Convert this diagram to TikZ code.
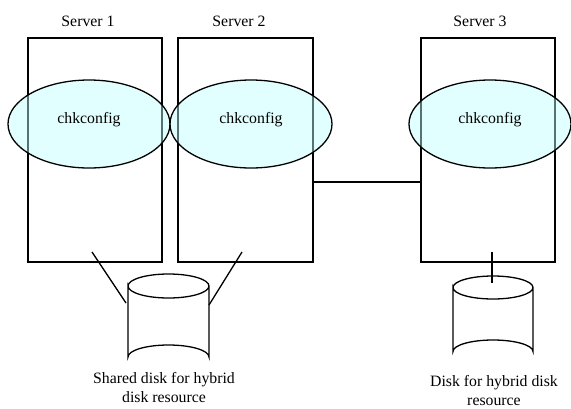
\documentclass[tikz,border=0pt]{standalone}
\usepackage{fontspec}
\setmainfont{Liberation Serif}
\usetikzlibrary{shapes.geometric}
\definecolor{procfill}{RGB}{190,255,255}
\begin{document}
\begin{tikzpicture}[x=1pt,y=-1pt,line width=1.3pt,
  server/.style={draw,minimum width=134pt,minimum height=224pt,inner sep=0pt},
  proc/.style={ellipse,draw,fill=procfill,fill opacity=0.45,minimum width=162pt,minimum height=88pt,inner sep=0pt},
  lbl/.style={font=\fontsize{15.8}{19}\selectfont,inner sep=0pt,align=center}]
\useasboundingbox (0,0) rectangle (571,408);
% servers
\node[server] (s1) at (95,150) {};
\node[server,minimum width=135pt] (s2) at (245.5,150) {};
\node[server] (s3) at (488,150) {};
\node[lbl] (t1) at (88,21) {Server 1};
\node[lbl] (t2) at (239,21) {Server 2};
\node[lbl] (t3) at (480,21) {Server 3};
% chkconfig ellipses
\node[proc] (e1) at (89,124) {};
\node[proc] (e2) at (251,124) {};
\node[proc] (e3) at (490,124) {};
\node[lbl] (c1) at (89,120) {chkconfig};
\node[lbl] (c2) at (251,120) {chkconfig};
\node[lbl] (c3) at (490,120) {chkconfig};
% link between server 2 and 3
\coordinate (link) at (0,182);
\draw (s2.east |- link) -- (s3.west |- link);
% shared disk
\draw (128,286) arc[start angle=180,end angle=360,x radius=40.5,y radius=12]
      arc[start angle=0,end angle=180,x radius=40.5,y radius=12] -- (128,357)
      arc[start angle=180,end angle=360,x radius=40.5,y radius=12] -- (209,286);
\node[lbl] (d1) at (164,387.5) {Shared disk for hybrid\\disk resource};
\coordinate (a1) at (92,252);
\coordinate (b1) at (126,303);
\coordinate (a2) at (242,252);
\coordinate (b2) at (209,305);
\draw (a1) -- (b1);
\draw (a2) -- (b2);
% disk 3
\draw (453,287.5) arc[start angle=180,end angle=360,x radius=40,y radius=11.5]
      arc[start angle=0,end angle=180,x radius=40,y radius=11.5] -- (453,351.5)
      arc[start angle=180,end angle=360,x radius=40,y radius=11.5] -- (533,287.5);
\node[lbl] (d3) at (494,391) {Disk for hybrid disk\\resource};
\coordinate (a3) at (492,252);
\coordinate (b3) at (492,283);
\draw (a3) -- (b3);
\end{tikzpicture}
\end{document}
